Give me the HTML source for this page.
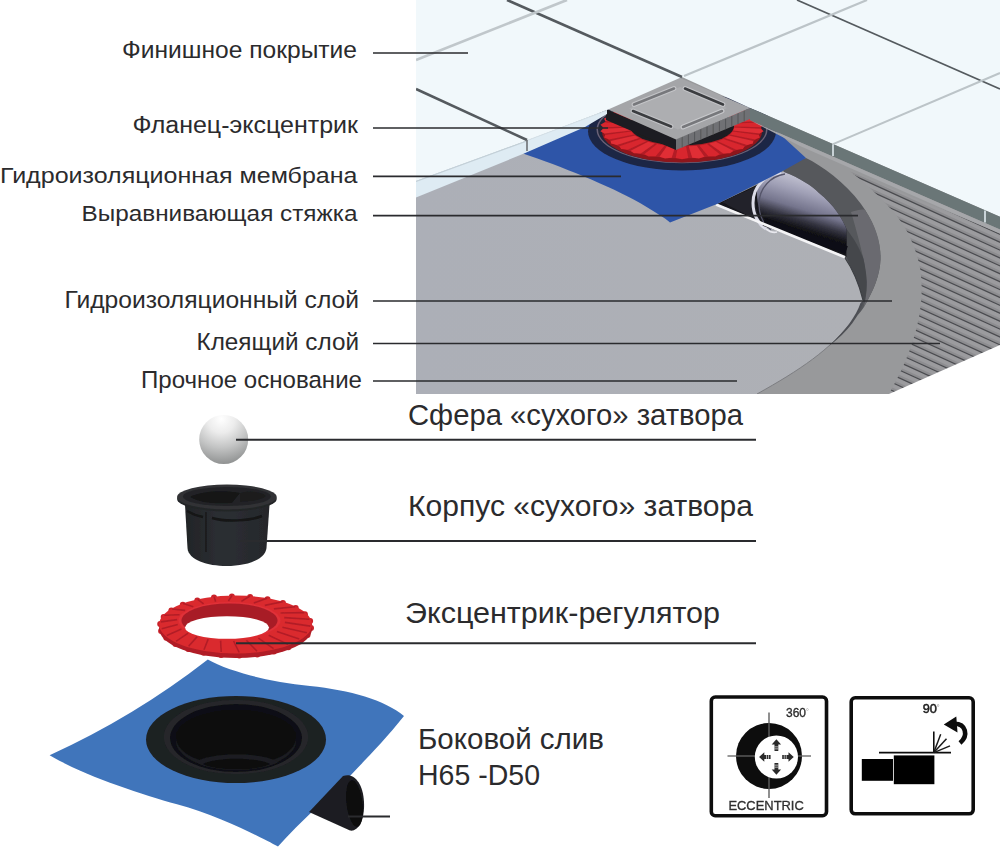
<!DOCTYPE html>
<html><head><meta charset="utf-8"><title>diagram</title>
<style>
html,body{margin:0;padding:0;background:#fff;}
body{width:1000px;height:848px;overflow:hidden;font-family:"Liberation Sans",sans-serif;}
svg{display:block;font-family:"Liberation Sans",sans-serif;}
</style></head><body>
<svg width="1000" height="848" viewBox="0 0 1000 848">
<rect width="1000" height="848" fill="#ffffff"/>
<defs>
<clipPath id="scene"><polygon points="416,0 1000,0 1000,345 889,394 416,394"/></clipPath>
<filter id="soft" x="-5%" y="-5%" width="110%" height="110%"><feGaussianBlur stdDeviation="0.6"/></filter>
<filter id="soft2" x="-5%" y="-5%" width="110%" height="110%"><feGaussianBlur stdDeviation="0.45"/></filter>
<radialGradient id="ball" cx="0.45" cy="0.08" r="0.95"><stop offset="0" stop-color="#ffffff"/><stop offset="0.3" stop-color="#ececec"/><stop offset="0.62" stop-color="#c3c4c4"/><stop offset="1" stop-color="#8c8e8e"/></radialGradient>
<linearGradient id="pipeg" gradientUnits="userSpaceOnUse" x1="795" y1="170" x2="775" y2="235"><stop offset="0" stop-color="#cdcdda"/><stop offset="0.28" stop-color="#a0a0b6"/><stop offset="0.52" stop-color="#74748c"/><stop offset="0.68" stop-color="#33333f"/><stop offset="0.8" stop-color="#121217"/><stop offset="1" stop-color="#0c0c10"/></linearGradient>
<linearGradient id="screedg" x1="0" y1="0" x2="1" y2="0"><stop offset="0" stop-color="#acafb7"/><stop offset="1" stop-color="#aeb0b5"/></linearGradient>
<linearGradient id="cupg" x1="0" y1="0" x2="1" y2="0"><stop offset="0" stop-color="#222427"/><stop offset="0.45" stop-color="#2c2f33"/><stop offset="1" stop-color="#25272b"/></linearGradient>
<clipPath id="stripeclip"><path d="M850,171.5 C862,180 878,195 892,210 C905,225 915,243 920,268 C925,298 920,340 889,394 L1000,394 L1000,233 Z"/></clipPath>
</defs>
<g clip-path="url(#scene)" filter="url(#soft2)">
<rect x="416" y="0" width="584" height="394" fill="#98999b"/>
<g clip-path="url(#stripeclip)">
<rect x="840" y="160" width="170" height="240" fill="#9b9b9e"/>
<line x1="840" y1="104.34" x2="1005" y2="179.58" stroke="#8d8d90" stroke-width="2.3" />
<line x1="840" y1="106.04" x2="1005" y2="181.28000000000003" stroke="#4b4c50" stroke-width="1.25" />
<line x1="840" y1="112.24" x2="1005" y2="187.48000000000002" stroke="#8d8d90" stroke-width="2.3" />
<line x1="840" y1="113.94" x2="1005" y2="189.18" stroke="#4b4c50" stroke-width="1.25" />
<line x1="840" y1="120.14" x2="1005" y2="195.38" stroke="#8d8d90" stroke-width="2.3" />
<line x1="840" y1="121.84" x2="1005" y2="197.08" stroke="#4b4c50" stroke-width="1.25" />
<line x1="840" y1="128.04000000000002" x2="1005" y2="203.28000000000003" stroke="#8d8d90" stroke-width="2.3" />
<line x1="840" y1="129.74" x2="1005" y2="204.98000000000002" stroke="#4b4c50" stroke-width="1.25" />
<line x1="840" y1="135.94000000000003" x2="1005" y2="211.18000000000004" stroke="#8d8d90" stroke-width="2.3" />
<line x1="840" y1="137.64000000000001" x2="1005" y2="212.88000000000002" stroke="#4b4c50" stroke-width="1.25" />
<line x1="840" y1="143.84000000000003" x2="1005" y2="219.08000000000004" stroke="#8d8d90" stroke-width="2.3" />
<line x1="840" y1="145.54000000000002" x2="1005" y2="220.78000000000003" stroke="#4b4c50" stroke-width="1.25" />
<line x1="840" y1="151.74" x2="1005" y2="226.98000000000002" stroke="#8d8d90" stroke-width="2.3" />
<line x1="840" y1="153.44" x2="1005" y2="228.68" stroke="#4b4c50" stroke-width="1.25" />
<line x1="840" y1="159.64000000000001" x2="1005" y2="234.88000000000002" stroke="#8d8d90" stroke-width="2.3" />
<line x1="840" y1="161.34" x2="1005" y2="236.58" stroke="#4b4c50" stroke-width="1.25" />
<line x1="840" y1="167.54000000000002" x2="1005" y2="242.78000000000003" stroke="#8d8d90" stroke-width="2.3" />
<line x1="840" y1="169.24" x2="1005" y2="244.48000000000002" stroke="#4b4c50" stroke-width="1.25" />
<line x1="840" y1="175.44000000000003" x2="1005" y2="250.68000000000004" stroke="#8d8d90" stroke-width="2.3" />
<line x1="840" y1="177.14000000000001" x2="1005" y2="252.38000000000002" stroke="#4b4c50" stroke-width="1.25" />
<line x1="840" y1="183.34000000000003" x2="1005" y2="258.58000000000004" stroke="#8d8d90" stroke-width="2.3" />
<line x1="840" y1="185.04000000000002" x2="1005" y2="260.28000000000003" stroke="#4b4c50" stroke-width="1.25" />
<line x1="840" y1="191.24" x2="1005" y2="266.48" stroke="#8d8d90" stroke-width="2.3" />
<line x1="840" y1="192.94" x2="1005" y2="268.18" stroke="#4b4c50" stroke-width="1.25" />
<line x1="840" y1="199.14000000000001" x2="1005" y2="274.38" stroke="#8d8d90" stroke-width="2.3" />
<line x1="840" y1="200.84" x2="1005" y2="276.08000000000004" stroke="#4b4c50" stroke-width="1.25" />
<line x1="840" y1="207.04000000000002" x2="1005" y2="282.28000000000003" stroke="#8d8d90" stroke-width="2.3" />
<line x1="840" y1="208.74" x2="1005" y2="283.98" stroke="#4b4c50" stroke-width="1.25" />
<line x1="840" y1="214.94000000000003" x2="1005" y2="290.18000000000006" stroke="#8d8d90" stroke-width="2.3" />
<line x1="840" y1="216.64000000000001" x2="1005" y2="291.88" stroke="#4b4c50" stroke-width="1.25" />
<line x1="840" y1="222.84000000000003" x2="1005" y2="298.08000000000004" stroke="#8d8d90" stroke-width="2.3" />
<line x1="840" y1="224.54000000000002" x2="1005" y2="299.78000000000003" stroke="#4b4c50" stroke-width="1.25" />
<line x1="840" y1="230.74" x2="1005" y2="305.98" stroke="#8d8d90" stroke-width="2.3" />
<line x1="840" y1="232.44" x2="1005" y2="307.68" stroke="#4b4c50" stroke-width="1.25" />
<line x1="840" y1="238.64000000000004" x2="1005" y2="313.88000000000005" stroke="#8d8d90" stroke-width="2.3" />
<line x1="840" y1="240.34000000000003" x2="1005" y2="315.58000000000004" stroke="#4b4c50" stroke-width="1.25" />
<line x1="840" y1="246.54000000000002" x2="1005" y2="321.78000000000003" stroke="#8d8d90" stroke-width="2.3" />
<line x1="840" y1="248.24" x2="1005" y2="323.48" stroke="#4b4c50" stroke-width="1.25" />
<line x1="840" y1="254.44000000000005" x2="1005" y2="329.68000000000006" stroke="#8d8d90" stroke-width="2.3" />
<line x1="840" y1="256.14000000000004" x2="1005" y2="331.38000000000005" stroke="#4b4c50" stroke-width="1.25" />
<line x1="840" y1="262.34000000000003" x2="1005" y2="337.58000000000004" stroke="#8d8d90" stroke-width="2.3" />
<line x1="840" y1="264.04" x2="1005" y2="339.28000000000003" stroke="#4b4c50" stroke-width="1.25" />
<line x1="840" y1="270.24" x2="1005" y2="345.48" stroke="#8d8d90" stroke-width="2.3" />
<line x1="840" y1="271.94" x2="1005" y2="347.18" stroke="#4b4c50" stroke-width="1.25" />
<line x1="840" y1="278.14000000000004" x2="1005" y2="353.38000000000005" stroke="#8d8d90" stroke-width="2.3" />
<line x1="840" y1="279.84000000000003" x2="1005" y2="355.08000000000004" stroke="#4b4c50" stroke-width="1.25" />
<line x1="840" y1="286.04" x2="1005" y2="361.28000000000003" stroke="#8d8d90" stroke-width="2.3" />
<line x1="840" y1="287.74" x2="1005" y2="362.98" stroke="#4b4c50" stroke-width="1.25" />
<line x1="840" y1="293.94000000000005" x2="1005" y2="369.18000000000006" stroke="#8d8d90" stroke-width="2.3" />
<line x1="840" y1="295.64000000000004" x2="1005" y2="370.88000000000005" stroke="#4b4c50" stroke-width="1.25" />
<line x1="840" y1="301.84000000000003" x2="1005" y2="377.08000000000004" stroke="#8d8d90" stroke-width="2.3" />
<line x1="840" y1="303.54" x2="1005" y2="378.78000000000003" stroke="#4b4c50" stroke-width="1.25" />
<line x1="840" y1="309.74" x2="1005" y2="384.98" stroke="#8d8d90" stroke-width="2.3" />
<line x1="840" y1="311.44" x2="1005" y2="386.68" stroke="#4b4c50" stroke-width="1.25" />
<line x1="840" y1="317.64" x2="1005" y2="392.88" stroke="#8d8d90" stroke-width="2.3" />
<line x1="840" y1="319.34" x2="1005" y2="394.58" stroke="#4b4c50" stroke-width="1.25" />
<line x1="840" y1="325.54" x2="1005" y2="400.78000000000003" stroke="#8d8d90" stroke-width="2.3" />
<line x1="840" y1="327.24" x2="1005" y2="402.48" stroke="#4b4c50" stroke-width="1.25" />
<line x1="840" y1="333.44000000000005" x2="1005" y2="408.68000000000006" stroke="#8d8d90" stroke-width="2.3" />
<line x1="840" y1="335.14000000000004" x2="1005" y2="410.38000000000005" stroke="#4b4c50" stroke-width="1.25" />
<line x1="840" y1="341.34000000000003" x2="1005" y2="416.58000000000004" stroke="#8d8d90" stroke-width="2.3" />
<line x1="840" y1="343.04" x2="1005" y2="418.28000000000003" stroke="#4b4c50" stroke-width="1.25" />
<line x1="840" y1="349.24" x2="1005" y2="424.48" stroke="#8d8d90" stroke-width="2.3" />
<line x1="840" y1="350.94" x2="1005" y2="426.18" stroke="#4b4c50" stroke-width="1.25" />
<line x1="840" y1="357.14000000000004" x2="1005" y2="432.38000000000005" stroke="#8d8d90" stroke-width="2.3" />
<line x1="840" y1="358.84000000000003" x2="1005" y2="434.08000000000004" stroke="#4b4c50" stroke-width="1.25" />
<line x1="840" y1="365.04" x2="1005" y2="440.28000000000003" stroke="#8d8d90" stroke-width="2.3" />
<line x1="840" y1="366.74" x2="1005" y2="441.98" stroke="#4b4c50" stroke-width="1.25" />
<line x1="840" y1="372.94000000000005" x2="1005" y2="448.18000000000006" stroke="#8d8d90" stroke-width="2.3" />
<line x1="840" y1="374.64000000000004" x2="1005" y2="449.88000000000005" stroke="#4b4c50" stroke-width="1.25" />
<line x1="840" y1="380.84000000000003" x2="1005" y2="456.08000000000004" stroke="#8d8d90" stroke-width="2.3" />
<line x1="840" y1="382.54" x2="1005" y2="457.78000000000003" stroke="#4b4c50" stroke-width="1.25" />
<line x1="840" y1="388.74" x2="1005" y2="463.98" stroke="#8d8d90" stroke-width="2.3" />
<line x1="840" y1="390.44" x2="1005" y2="465.68" stroke="#4b4c50" stroke-width="1.25" />
<line x1="840" y1="396.64000000000004" x2="1005" y2="471.88000000000005" stroke="#8d8d90" stroke-width="2.3" />
<line x1="840" y1="398.34000000000003" x2="1005" y2="473.58000000000004" stroke="#4b4c50" stroke-width="1.25" />
<line x1="840" y1="404.54" x2="1005" y2="479.78000000000003" stroke="#8d8d90" stroke-width="2.3" />
<line x1="840" y1="406.24" x2="1005" y2="481.48" stroke="#4b4c50" stroke-width="1.25" />
<line x1="840" y1="412.44000000000005" x2="1005" y2="487.68000000000006" stroke="#8d8d90" stroke-width="2.3" />
<line x1="840" y1="414.14000000000004" x2="1005" y2="489.38000000000005" stroke="#4b4c50" stroke-width="1.25" />
<line x1="840" y1="420.34000000000003" x2="1005" y2="495.58000000000004" stroke="#8d8d90" stroke-width="2.3" />
<line x1="840" y1="422.04" x2="1005" y2="497.28000000000003" stroke="#4b4c50" stroke-width="1.25" />
<line x1="840" y1="428.24" x2="1005" y2="503.48" stroke="#8d8d90" stroke-width="2.3" />
<line x1="840" y1="429.94" x2="1005" y2="505.18" stroke="#4b4c50" stroke-width="1.25" />
<line x1="840" y1="436.14000000000004" x2="1005" y2="511.38000000000005" stroke="#8d8d90" stroke-width="2.3" />
<line x1="840" y1="437.84000000000003" x2="1005" y2="513.08" stroke="#4b4c50" stroke-width="1.25" />
<line x1="840" y1="444.04" x2="1005" y2="519.28" stroke="#8d8d90" stroke-width="2.3" />
<line x1="840" y1="445.74" x2="1005" y2="520.98" stroke="#4b4c50" stroke-width="1.25" />
</g>
<path d="M780,165 L806,158 C822,166 845,182 861,204 C874,222 881,242 880.5,259 C880,275 874,290 863.5,307.7 C860,313 856,317 853,320 C858,310 862,300 862,292 L844,257 L784,172 Z" fill="#56585c" />
<path d="M851,212 C857,210 863,209 865,210 C876,226 881,243 880.5,259 C880,275 874,290 863.5,307.7 C866,298 867,290 866.7,284 C866,272 864.5,265 863.5,259 C861,248 857,232 851,212 Z" fill="#6a6b6f" />
<path d="M846.5,229 C852,236 860,248 863.5,259 C866,270 867,280 866.7,284 C866.5,292 865.5,298 864.5,303 C860,290 852,270 846.5,257 Z" fill="#45474c" />
<path d="M416,394 L416,150 L700,150 L717,204 L844.4,257 C852,268 859,284 863,300 C860,312 856,317 853,320 C830,350 800,370 757,394 Z" fill="url(#screedg)" />
<path d="M844.4,257 C852,268 859,284 863,300" fill="none" stroke="#3d3f43" stroke-width="1.2"/>
<path d="M853,320 C830,350 800,370 757,394" fill="none" stroke="#7d7e82" stroke-width="1"/>
<path d="M864,300 C860,315 848,332 829,346 C846,330 856,316 860.5,303 Z" fill="#4e5055" />
<path d="M717,204 L784,172 C800,178 812,186 819,193 C834,205 842,218 846.5,229 L846.5,257 Z" fill="#15151a" />
<path d="M757,190 C760,180 775,172 784,172 C800,178 812,186 819,193 C834,205 842,218 846.5,229 L846.5,249 L766,221 C760,214 756,202 757,190 Z" fill="url(#pipeg)" />
<path d="M722,202 L757,186 C754,198 755,212 762,223 Z" fill="#23232a" />
<path d="M781,173 C766,174 753,186 753,203 C753,214 758,224 766,229" fill="none" stroke="#dcdce8" stroke-width="3"/>
<path d="M785,174 C771,176 759,188 759,204 C759,215 763,224 771,230" fill="none" stroke="#55556a" stroke-width="1.3"/>
<path d="M766,229 C770,232 774,233 777,232" fill="none" stroke="#e8e8ee" stroke-width="1.6"/>
<path d="M764,222 L846.5,250" fill="none" stroke="#0d0d12" stroke-width="8"/>
<path d="M716,204.5 L845,257.3" fill="none" stroke="#f4f4f6" stroke-width="2.6"/>
<path d="M523,153.5 C560,166 610,186 640,203 C655,212 665,218 670,222.5 L717,204 L781,172 L806,158 L770,125 L600,118 Z" fill="#2f55a8" />
<ellipse cx="682" cy="131.5" rx="94" ry="39" fill="#1f2644"/>
<ellipse cx="682" cy="129.5" rx="85.5" ry="33.8" fill="#6a6278"/>
<ellipse cx="682" cy="129.5" rx="84" ry="32.8" fill="#23263a"/>
<ellipse cx="682" cy="131.5" rx="80" ry="31" fill="#8e161c"/>
<ellipse cx="682" cy="128.5" rx="79" ry="30" fill="#b21d25"/>
<polygon points="734.0,127.5 761.0,128.8 763.6,131.3 759.7,133.5 733.1,130.6" fill="#e02d35" />
<polygon points="732.6,131.5 758.8,135.0 760.0,137.6 755.0,139.5 730.0,134.5" fill="#d8262e" />
<polygon points="729.0,135.4 753.3,140.9 753.0,143.6 747.1,145.0 724.8,138.1" fill="#e02d35" />
<polygon points="723.3,138.9 744.7,146.2 742.9,148.9 736.3,149.8 717.8,141.2" fill="#d8262e" />
<polygon points="715.8,141.8 733.4,150.8 730.2,153.2 723.2,153.6 709.1,143.6" fill="#e02d35" />
<polygon points="706.9,144.1 719.8,154.3 715.4,156.5 708.3,156.3 699.3,145.4" fill="#d8262e" />
<polygon points="696.8,145.7 704.5,156.8 699.0,158.5 692.2,157.7 688.7,146.3" fill="#e02d35" />
<polygon points="686.1,146.4 688.3,157.9 682.0,159.2 675.7,157.9 677.9,146.4" fill="#d8262e" />
<polygon points="675.3,146.3 671.8,157.7 665.0,158.5 659.5,156.8 667.2,145.7" fill="#e02d35" />
<polygon points="664.7,145.4 655.7,156.3 648.6,156.5 644.2,154.3 657.1,144.1" fill="#d8262e" />
<polygon points="654.9,143.6 640.8,153.6 633.8,153.2 630.6,150.8 648.2,141.8" fill="#e02d35" />
<polygon points="646.2,141.2 627.7,149.8 621.1,148.9 619.3,146.2 640.7,138.9" fill="#d8262e" />
<polygon points="639.2,138.1 616.9,145.0 611.0,143.6 610.7,140.9 635.0,135.4" fill="#e02d35" />
<polygon points="634.0,134.5 609.0,139.5 604.0,137.6 605.2,135.0 631.4,131.5" fill="#d8262e" />
<polygon points="630.9,130.6 604.3,133.5 600.4,131.3 603.0,128.8 630.0,127.5" fill="#e02d35" />
<polygon points="630.0,126.5 603.0,127.2 600.4,124.7 604.3,122.5 630.9,123.4" fill="#d8262e" />
<polygon points="631.4,122.5 605.2,121.0 604.0,118.4 609.0,116.5 634.0,119.5" fill="#e02d35" />
<polygon points="635.0,118.6 610.7,115.1 611.0,112.4 616.9,111.0 639.2,115.9" fill="#d8262e" />
<polygon points="640.7,115.1 619.3,109.8 621.1,107.1 627.7,106.2 646.2,112.8" fill="#e02d35" />
<polygon points="648.2,112.2 630.6,105.2 633.8,102.8 640.8,102.4 654.9,110.4" fill="#d8262e" />
<polygon points="657.1,109.9 644.2,101.7 648.6,99.5 655.7,99.7 664.7,108.6" fill="#e02d35" />
<polygon points="667.2,108.3 659.5,99.2 665.0,97.5 671.8,98.3 675.3,107.7" fill="#d8262e" />
<polygon points="677.9,107.6 675.7,98.1 682.0,96.8 688.3,98.1 686.1,107.6" fill="#e02d35" />
<polygon points="688.7,107.7 692.2,98.3 699.0,97.5 704.5,99.2 696.8,108.3" fill="#d8262e" />
<polygon points="699.3,108.6 708.3,99.7 715.4,99.5 719.8,101.7 706.9,109.9" fill="#e02d35" />
<polygon points="709.1,110.4 723.2,102.4 730.2,102.8 733.4,105.2 715.8,112.2" fill="#d8262e" />
<polygon points="717.8,112.8 736.3,106.2 742.9,107.1 744.7,109.8 723.3,115.1" fill="#e02d35" />
<polygon points="724.8,115.9 747.1,111.0 753.0,112.4 753.3,115.1 729.0,118.6" fill="#d8262e" />
<polygon points="730.0,119.5 755.0,116.5 760.0,118.4 758.8,121.0 732.6,122.5" fill="#e02d35" />
<polygon points="733.1,123.4 759.7,122.5 763.6,124.7 761.0,127.2 734.0,126.5" fill="#d8262e" />
<ellipse cx="682" cy="126" rx="52" ry="19.5" fill="#1c1c20"/>
<polygon points="606.0,109.0 676.0,139.0 676.0,150.0 606.0,120.0" fill="#1d1d20" />
<polygon points="676.0,139.0 750.0,108.0 750.0,119.0 676.0,150.0" fill="#707174" />
<line x1="682.2" y1="136.4" x2="682.2" y2="147.4" stroke="#555659" stroke-width="1" />
<line x1="688.4" y1="133.8" x2="688.4" y2="144.8" stroke="#555659" stroke-width="1" />
<line x1="694.6" y1="131.2" x2="694.6" y2="142.2" stroke="#555659" stroke-width="1" />
<line x1="700.8" y1="128.6" x2="700.8" y2="139.6" stroke="#555659" stroke-width="1" />
<line x1="707.0" y1="126.0" x2="707.0" y2="137.0" stroke="#555659" stroke-width="1" />
<line x1="713.2" y1="123.4" x2="713.2" y2="134.4" stroke="#555659" stroke-width="1" />
<line x1="719.4" y1="120.8" x2="719.4" y2="131.8" stroke="#555659" stroke-width="1" />
<line x1="725.6" y1="118.2" x2="725.6" y2="129.2" stroke="#555659" stroke-width="1" />
<line x1="731.8" y1="115.6" x2="731.8" y2="126.6" stroke="#555659" stroke-width="1" />
<line x1="738.0" y1="113.0" x2="738.0" y2="124.0" stroke="#555659" stroke-width="1" />
<line x1="744.2" y1="110.4" x2="744.2" y2="121.4" stroke="#555659" stroke-width="1" />
<polygon points="606.0,108.5 679.0,77.5 750.0,108.0 676.0,139.5" fill="#a4a5a8" />
<polygon points="629.0,108.5 680.0,87.0 727.0,108.0 678.0,129.5" fill="#adaeb1" />
<line x1="634" y1="104.5" x2="674" y2="88.5" stroke="#c4c5c8" stroke-width="4.8" stroke-linecap="round"/>
<line x1="634" y1="104.5" x2="674" y2="88.5" stroke="#77787c" stroke-width="2.6" stroke-linecap="round"/>
<line x1="685" y1="88.5" x2="723" y2="104.5" stroke="#c2c3c6" stroke-width="4.8" stroke-linecap="round"/>
<line x1="685" y1="88.5" x2="723" y2="104.5" stroke="#3b3c40" stroke-width="2.6" stroke-linecap="round"/>
<line x1="633" y1="111" x2="671" y2="126.5" stroke="#c2c3c6" stroke-width="4.8" stroke-linecap="round"/>
<line x1="633" y1="111" x2="671" y2="126.5" stroke="#3b3c40" stroke-width="2.6" stroke-linecap="round"/>
<line x1="683" y1="127" x2="722" y2="111" stroke="#c9cacd" stroke-width="4.8" stroke-linecap="round"/>
<line x1="683" y1="127" x2="722" y2="111" stroke="#77787c" stroke-width="2.6" stroke-linecap="round"/>
</g>
<g clip-path="url(#scene)" filter="url(#soft2)">
<polygon points="416.0,0.0 1000.0,0.0 1000.0,216.8 750.0,107.9 682.0,77.0 607.0,110.0 527.0,140.5 416.0,181.0" fill="#f1f8fb" />
<polygon points="416.0,181.0 527.0,140.5 607.0,110.0 607.0,114.0 585.0,127.0 524.0,153.5 416.0,197.5" fill="#deebf3" />
<line x1="416" y1="181.5" x2="527" y2="141" stroke="#c3d0d8" stroke-width="1.2" />
<line x1="527" y1="140.5" x2="607" y2="110.5" stroke="#d5e1e8" stroke-width="1" />
<polygon points="750.0,107.9 1000.0,216.8 1000.0,229.5 750.0,120.3" fill="#6b7677" />
<polygon points="750.0,120.3 1000.0,229.5 1000.0,233.8 800.0,146.0" fill="#a6a7aa" />
<line x1="507" y1="0" x2="682" y2="77" stroke="#545a5e" stroke-width="2.5" />
<line x1="797" y1="0" x2="1000" y2="89" stroke="#545a5e" stroke-width="1.8" />
<line x1="416" y1="89" x2="527" y2="140" stroke="#545a5e" stroke-width="2.5" />
<line x1="527" y1="140" x2="527" y2="151" stroke="#6d7074" stroke-width="1.6" />
<line x1="416" y1="60" x2="567" y2="0" stroke="#c0c7cb" stroke-width="2.6" />
<line x1="684" y1="76" x2="867" y2="0" stroke="#bcc4c8" stroke-width="2.2" />
<line x1="833" y1="144.2" x2="1000" y2="73" stroke="#bcc4c8" stroke-width="2.0" />
<line x1="833" y1="144.2" x2="833" y2="156" stroke="#d3dde1" stroke-width="1.8" />
<line x1="985" y1="210.5" x2="985" y2="222.5" stroke="#d3dde1" stroke-width="1.8" />
</g>
<g filter="url(#soft)">
<circle cx="223.7" cy="439.5" r="24.5" fill="url(#ball)"/>
<path d="M185,505 L187.5,548 C189,572 264,572 266.5,548 L269.5,505 Z" fill="url(#cupg)" />
<line x1="206" y1="512" x2="206" y2="552" stroke="#17181a" stroke-width="1.4" />
<path d="M212,518 C225,522 250,521 262,516" fill="none" stroke="#141517" stroke-width="2.5"/>
<path d="M187,511 C192,514 198,516 203,517" fill="none" stroke="#141517" stroke-width="2.5"/>
<ellipse cx="226.9" cy="499" rx="49.8" ry="12.5" fill="#242528"/>
<ellipse cx="226.9" cy="497" rx="49.8" ry="12.5" fill="#303235"/>
<ellipse cx="226.9" cy="496.5" rx="44" ry="9.6" fill="#232427"/>
<path d="M190,497 C200,491 225,490 240,493 L232,503 C215,504 200,503 190,497 Z" fill="#141517" />
<path d="M240,493 C250,490 262,492 266,496 C262,500 250,502 240,502 Z" fill="#1b1c1f" />
<g>
<circle cx="311.0" cy="628.1" r="3" fill="#c9232a"/>
<circle cx="307.5" cy="635.1" r="3" fill="#c9232a"/>
<circle cx="299.8" cy="641.6" r="3" fill="#c9232a"/>
<circle cx="288.4" cy="647.2" r="3" fill="#c9232a"/>
<circle cx="273.9" cy="651.5" r="3" fill="#c9232a"/>
<circle cx="257.2" cy="654.4" r="3" fill="#c9232a"/>
<circle cx="239.3" cy="655.6" r="3" fill="#c9232a"/>
<circle cx="221.1" cy="655.0" r="3" fill="#c9232a"/>
<circle cx="203.7" cy="652.8" r="3" fill="#c9232a"/>
<circle cx="188.3" cy="649.1" r="3" fill="#c9232a"/>
<circle cx="175.5" cy="644.0" r="3" fill="#c9232a"/>
<circle cx="166.3" cy="637.8" r="3" fill="#c9232a"/>
<circle cx="161.1" cy="631.0" r="3" fill="#c9232a"/>
<circle cx="160.2" cy="623.9" r="3" fill="#c9232a"/>
<circle cx="163.7" cy="616.9" r="3" fill="#c9232a"/>
<circle cx="171.4" cy="610.4" r="3" fill="#c9232a"/>
<circle cx="182.8" cy="604.8" r="3" fill="#c9232a"/>
<circle cx="197.3" cy="600.5" r="3" fill="#c9232a"/>
<circle cx="214.0" cy="597.6" r="3" fill="#c9232a"/>
<circle cx="231.9" cy="596.4" r="3" fill="#c9232a"/>
<circle cx="250.1" cy="597.0" r="3" fill="#c9232a"/>
<circle cx="267.5" cy="599.2" r="3" fill="#c9232a"/>
<circle cx="282.9" cy="602.9" r="3" fill="#c9232a"/>
<circle cx="295.7" cy="608.0" r="3" fill="#c9232a"/>
<circle cx="304.9" cy="614.2" r="3" fill="#c9232a"/>
<circle cx="310.1" cy="621.0" r="3" fill="#c9232a"/>
<ellipse cx="235.6" cy="628.5" rx="76.5" ry="29.5" fill="#b01d25"/>
<ellipse cx="235.6" cy="624.5" rx="76.5" ry="29" fill="#da2a2f"/>
<line x1="284.9" y1="622.4" x2="310.4" y2="626.1" stroke="#b21e27" stroke-width="1.6" />
<line x1="282.4" y1="627.2" x2="306.9" y2="632.8" stroke="#b21e27" stroke-width="1.6" />
<line x1="276.9" y1="631.6" x2="299.3" y2="639.0" stroke="#b21e27" stroke-width="1.6" />
<line x1="268.7" y1="635.3" x2="288.0" y2="644.4" stroke="#b21e27" stroke-width="1.6" />
<line x1="258.4" y1="638.2" x2="273.6" y2="648.6" stroke="#b21e27" stroke-width="1.6" />
<line x1="246.4" y1="640.2" x2="257.0" y2="651.3" stroke="#b21e27" stroke-width="1.6" />
<line x1="233.6" y1="641.0" x2="239.2" y2="652.5" stroke="#b21e27" stroke-width="1.6" />
<line x1="220.6" y1="640.6" x2="221.2" y2="652.0" stroke="#b21e27" stroke-width="1.6" />
<line x1="208.2" y1="639.1" x2="204.0" y2="649.8" stroke="#b21e27" stroke-width="1.6" />
<line x1="197.2" y1="636.6" x2="188.6" y2="646.2" stroke="#b21e27" stroke-width="1.6" />
<line x1="188.1" y1="633.1" x2="176.0" y2="641.3" stroke="#b21e27" stroke-width="1.6" />
<line x1="181.5" y1="629.0" x2="166.8" y2="635.4" stroke="#b21e27" stroke-width="1.6" />
<line x1="177.8" y1="624.4" x2="161.7" y2="628.8" stroke="#b21e27" stroke-width="1.6" />
<line x1="177.1" y1="619.6" x2="160.8" y2="621.9" stroke="#b21e27" stroke-width="1.6" />
<line x1="179.6" y1="614.8" x2="164.3" y2="615.2" stroke="#b21e27" stroke-width="1.6" />
<line x1="185.1" y1="610.4" x2="171.9" y2="609.0" stroke="#b21e27" stroke-width="1.6" />
<line x1="193.3" y1="606.7" x2="183.2" y2="603.6" stroke="#b21e27" stroke-width="1.6" />
<line x1="203.6" y1="603.8" x2="197.6" y2="599.4" stroke="#b21e27" stroke-width="1.6" />
<line x1="215.6" y1="601.8" x2="214.2" y2="596.7" stroke="#b21e27" stroke-width="1.6" />
<line x1="228.4" y1="601.0" x2="232.0" y2="595.5" stroke="#b21e27" stroke-width="1.6" />
<line x1="241.4" y1="601.4" x2="250.0" y2="596.0" stroke="#b21e27" stroke-width="1.6" />
<line x1="253.8" y1="602.9" x2="267.2" y2="598.2" stroke="#b21e27" stroke-width="1.6" />
<line x1="264.8" y1="605.4" x2="282.6" y2="601.8" stroke="#b21e27" stroke-width="1.6" />
<line x1="273.9" y1="608.9" x2="295.2" y2="606.7" stroke="#b21e27" stroke-width="1.6" />
<line x1="280.5" y1="613.0" x2="304.4" y2="612.6" stroke="#b21e27" stroke-width="1.6" />
<line x1="284.2" y1="617.6" x2="309.5" y2="619.2" stroke="#b21e27" stroke-width="1.6" />
<ellipse cx="229.5" cy="620.5" rx="51" ry="18.5" fill="#e03038"/>
<ellipse cx="229.5" cy="620.5" rx="48" ry="17" fill="#a81d26"/>
<ellipse cx="227" cy="627.5" rx="42" ry="11.3" fill="#ffffff"/>
</g>
<path d="M49.6,755.3 Q134.4,716.8 207.8,659.6 C230,672 270,682 310,686 C350,690 385,700 404,716 C385,740 365,760 350,776 C330,795 300,822 278,846.5 C262,838 220,816 177,804.3 C140,794 85,776 49.6,755.3 Z" fill="#4175bb" />
<path d="M309,812 L343,776 C353,772 363,782 364,802 C365,822 357,832 350,830.5 Z" fill="#1d1e21" />
<ellipse cx="354.5" cy="803.5" rx="8" ry="23.5" fill="#0b0b0d" transform="rotate(-7 354.5 803.5)"/>
<ellipse cx="236" cy="739.5" rx="90" ry="43.5" fill="#1e2023"/>
<ellipse cx="236" cy="737" rx="72" ry="37" fill="#27282c"/>
<ellipse cx="236" cy="738" rx="66" ry="34" fill="#0f1012"/>
<ellipse cx="236" cy="741" rx="60" ry="29" fill="#1b1c20"/>
<ellipse cx="236" cy="738" rx="60" ry="28" fill="#0e0f11"/>
<path d="M196,762 C210,752 262,752 278,762 C262,772 210,772 196,762 Z" fill="#1d1e22" />
<path d="M203,764 C215,757 258,757 270,764 C258,771 215,771 203,764 Z" fill="#0c0d0f" />
</g>
<g filter="url(#soft)">
<rect x="711.3" y="697" width="115.2" height="118.7" rx="4" ry="4" fill="#fff" stroke="#111" stroke-width="3.6"/>
<line x1="769" y1="712.5" x2="769" y2="798" stroke="#333" stroke-width="1.1" />
<line x1="727.5" y1="756" x2="811" y2="756" stroke="#333" stroke-width="1.1" />
<circle cx="769" cy="756" r="33" fill="#0b0b0b"/>
<line x1="769" y1="723" x2="769" y2="789" stroke="#8a8a8a" stroke-width="0.9" />
<line x1="736" y1="756" x2="802" y2="756" stroke="#8a8a8a" stroke-width="0.9" />
<circle cx="776.4" cy="757" r="21.6" fill="#fff"/>
<g transform="translate(776.4,745.5) rotate(0) scale(1.12)"><path d="M0,-5.5 L4.2,-0.8 L1.7,-0.8 L1.7,4.8 L-1.7,4.8 L-1.7,-0.8 L-4.2,-0.8 Z" fill="#2a2a2a"/><line x1="-1.7" y1="1.2" x2="1.7" y2="1.2" stroke="#ddd" stroke-width="0.7"/><line x1="-1.7" y1="3" x2="1.7" y2="3" stroke="#ddd" stroke-width="0.7"/></g>
<g transform="translate(776.4,768.5) rotate(180) scale(1.12)"><path d="M0,-5.5 L4.2,-0.8 L1.7,-0.8 L1.7,4.8 L-1.7,4.8 L-1.7,-0.8 L-4.2,-0.8 Z" fill="#2a2a2a"/><line x1="-1.7" y1="1.2" x2="1.7" y2="1.2" stroke="#ddd" stroke-width="0.7"/><line x1="-1.7" y1="3" x2="1.7" y2="3" stroke="#ddd" stroke-width="0.7"/></g>
<g transform="translate(765.2,757) rotate(270) scale(1.12)"><path d="M0,-5.5 L4.2,-0.8 L1.7,-0.8 L1.7,4.8 L-1.7,4.8 L-1.7,-0.8 L-4.2,-0.8 Z" fill="#2a2a2a"/><line x1="-1.7" y1="1.2" x2="1.7" y2="1.2" stroke="#ddd" stroke-width="0.7"/><line x1="-1.7" y1="3" x2="1.7" y2="3" stroke="#ddd" stroke-width="0.7"/></g>
<g transform="translate(787.6,757) rotate(90) scale(1.12)"><path d="M0,-5.5 L4.2,-0.8 L1.7,-0.8 L1.7,4.8 L-1.7,4.8 L-1.7,-0.8 L-4.2,-0.8 Z" fill="#2a2a2a"/><line x1="-1.7" y1="1.2" x2="1.7" y2="1.2" stroke="#ddd" stroke-width="0.7"/><line x1="-1.7" y1="3" x2="1.7" y2="3" stroke="#ddd" stroke-width="0.7"/></g>
<text x="786" y="717.3" font-size="13" fill="#2c2c2c" stroke="#2c2c2c" stroke-width="0.35" textLength="20" lengthAdjust="spacingAndGlyphs">360</text>
<text x="805.8" y="714" font-size="8" fill="#999">°</text>
<text x="728.4" y="809.7" font-size="12.4" fill="#303030" stroke="#303030" stroke-width="0.3" textLength="75.4" lengthAdjust="spacingAndGlyphs">ECCENTRIC</text>
<rect x="851.2" y="697.8" width="122" height="116" rx="4" ry="4" fill="#fff" stroke="#111" stroke-width="3.6"/>
<text x="922.7" y="713.4" font-size="13" fill="#1c1c1c" textLength="14.2" lengthAdjust="spacingAndGlyphs" stroke="#1c1c1c" stroke-width="0.5">90</text>
<text x="936.6" y="710" font-size="8" fill="#888">°</text>
<line x1="879" y1="752.6" x2="951" y2="752.6" stroke="#111" stroke-width="1.9" />
<rect x="861.8" y="759" width="31.2" height="21.8" fill="#060606"/>
<rect x="893.8" y="755.4" width="40.6" height="28.8" fill="#060606"/>
<line x1="933.8" y1="731.4" x2="933.8" y2="752.6" stroke="#111" stroke-width="1.6" />
<line x1="933.8" y1="752.6" x2="940.7" y2="734.3" stroke="#1a1a1a" stroke-width="1.5" />
<line x1="933.8" y1="752.6" x2="946.5" y2="738.7" stroke="#1a1a1a" stroke-width="1.5" />
<line x1="933.8" y1="752.6" x2="950" y2="745.9" stroke="#1a1a1a" stroke-width="1.5" />
<path d="M960,743 C968.5,736 966.5,723 953,723.8" fill="none" stroke="#0a0a0a" stroke-width="4.6"/>
<polygon points="943.8,724.5 956.3,716.5 957.5,732.5" fill="#0a0a0a" />
</g>
<line x1="373" y1="53" x2="468" y2="53" stroke="#2a2b2e" stroke-width="1.7" />
<line x1="373" y1="128" x2="608" y2="128" stroke="#2a2b2e" stroke-width="1.7" />
<line x1="373" y1="176.3" x2="621" y2="176.3" stroke="#2a2b2e" stroke-width="1.7" />
<line x1="373" y1="215.6" x2="858" y2="215.6" stroke="#2a2b2e" stroke-width="1.7" />
<line x1="373" y1="301" x2="892" y2="301" stroke="#2a2b2e" stroke-width="1.7" />
<line x1="373" y1="343.5" x2="940" y2="343.5" stroke="#2a2b2e" stroke-width="1.7" />
<line x1="373" y1="381" x2="737" y2="381" stroke="#2a2b2e" stroke-width="1.7" />
<line x1="236" y1="439.7" x2="756" y2="439.7" stroke="#2a2b2e" stroke-width="2.0" />
<line x1="240" y1="541" x2="756" y2="541" stroke="#2a2b2e" stroke-width="2.0" />
<line x1="236" y1="643.3" x2="756" y2="643.3" stroke="#2a2b2e" stroke-width="2.0" />
<line x1="348" y1="816.5" x2="390" y2="816.5" stroke="#2a2b2e" stroke-width="2.0" />
<text x="357" y="58" font-size="23.5" text-anchor="end" fill="#2b2b2d" textLength="235" lengthAdjust="spacingAndGlyphs" >Финишное покрытие</text>
<text x="358" y="133.2" font-size="23.5" text-anchor="end" fill="#2b2b2d" textLength="225.5" lengthAdjust="spacingAndGlyphs" >Фланец-эксцентрик</text>
<text x="357.5" y="182.6" font-size="22.8" text-anchor="end" fill="#2b2b2d" textLength="357.5" lengthAdjust="spacingAndGlyphs" >Гидроизоляционная мембрана</text>
<text x="357.5" y="221" font-size="22.8" text-anchor="end" fill="#2b2b2d" textLength="276" lengthAdjust="spacingAndGlyphs" >Выравнивающая стяжка</text>
<text x="359" y="308.3" font-size="24.5" text-anchor="end" fill="#2b2b2d" textLength="294.5" lengthAdjust="spacingAndGlyphs" >Гидроизоляционный слой</text>
<text x="359" y="349.6" font-size="24.5" text-anchor="end" fill="#2b2b2d" textLength="162.5" lengthAdjust="spacingAndGlyphs" >Клеящий слой</text>
<text x="362" y="387.6" font-size="24.5" text-anchor="end" fill="#2b2b2d" textLength="221" lengthAdjust="spacingAndGlyphs" >Прочное основание</text>
<text x="408" y="424.5" font-size="29" text-anchor="start" fill="#2b2b2d" textLength="335" lengthAdjust="spacingAndGlyphs" >Сфера «сухого» затвора</text>
<text x="408" y="516.2" font-size="29" text-anchor="start" fill="#2b2b2d" textLength="345" lengthAdjust="spacingAndGlyphs" >Корпус «сухого» затвора</text>
<text x="405" y="623" font-size="29" text-anchor="start" fill="#2b2b2d" textLength="315" lengthAdjust="spacingAndGlyphs" >Эксцентрик-регулятор</text>
<text x="418" y="749" font-size="29" text-anchor="start" fill="#2b2b2d" textLength="186" lengthAdjust="spacingAndGlyphs" >Боковой слив</text>
<text x="418" y="785.3" font-size="29" text-anchor="start" fill="#2b2b2d" textLength="122" lengthAdjust="spacingAndGlyphs" >H65 -D50</text>
</svg>
</body></html>
